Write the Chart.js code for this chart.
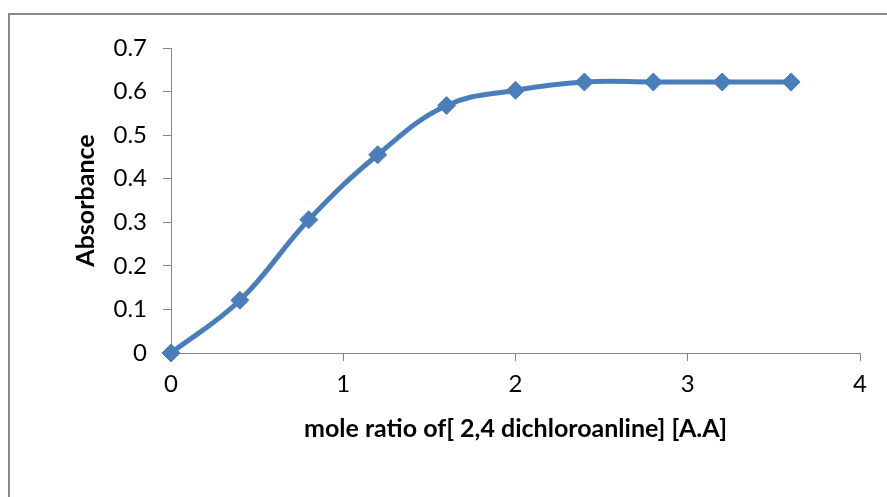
<!DOCTYPE html>
<html>
<head>
<meta charset="utf-8">
<script src="https://cdn.jsdelivr.net/npm/chart.js@4.4.1/dist/chart.umd.min.js"></script>
<style>
  html, body { margin: 0; padding: 0; background: #ffffff; }
  #wrap { width: 887px; height: 497px; }
</style>
</head>
<body>
<div id="wrap"><canvas id="absChart" width="887" height="497"></canvas></div>
<script>
  "use strict";

  // mole ratio [A.A] vs absorbance
  const moleRatio = [0, 0.4, 0.8, 1.2, 1.6, 2.0, 2.4, 2.8, 3.2, 3.6];
  const absorbance = [0, 0.121, 0.306, 0.455, 0.568, 0.603, 0.622, 0.622, 0.622, 0.622];
  const xTitle = "mole ratio of[ 2,4 dichloroanline] [A.A]";
  const yTitle = "Absorbance";

  const lineBlue = "#4A7EBB";
  const axisGray = "#868686";
  const fontFamily = "Lato, 'Open Sans', sans-serif";

  const points = moleRatio.map((x, i) => ({ x: x, y: absorbance[i] }));

  // outer frame of the chart box
  const framePlugin = {
    id: "frame",
    beforeDraw: (chart) => {
      const ctx = chart.ctx;
      ctx.save();
      ctx.fillStyle = "#ffffff";
      ctx.fillRect(0, 0, chart.width, chart.height);
      ctx.strokeStyle = "#8a8a8a";
      ctx.lineWidth = 2;
      ctx.strokeRect(9, 14, chart.width + 20, chart.height + 20);
      ctx.restore();
    },
  };

  new Chart(document.getElementById("absChart"), {
    type: "line",
    data: {
      datasets: [
        {
          data: points,
          borderColor: lineBlue,
          backgroundColor: lineBlue,
          borderWidth: 5,
          tension: 0.4,
          pointStyle: "rectRot",
          pointRadius: 9,
          pointBorderWidth: 1,
          pointBorderColor: lineBlue,
          pointBackgroundColor: lineBlue,
          clip: false,
        },
      ],
    },
    options: {
      responsive: false,
      animation: false,
      layout: {
        padding: { top: 48, right: 27, bottom: 0, left: 0 },
      },
      plugins: {
        legend: { display: false },
        tooltip: { enabled: false },
      },
      scales: {
        x: {
          type: "linear",
          min: 0,
          max: 4,
          ticks: {
            stepSize: 1,
            padding: 9,
            color: "#000000",
            font: { family: fontFamily, size: 24 },
          },
          grid: {
            drawOnChartArea: false,
            drawTicks: true,
            tickLength: 8,
            color: axisGray,
          },
          border: { color: axisGray, width: 1 },
          title: {
            display: true,
            text: xTitle,
            color: "#000000",
            font: { family: fontFamily, size: 25, weight: "bold" },
            padding: { top: 0, bottom: 53 },
          },
          afterFit: (scale) => {
            scale.height = 144;
          },
        },
        y: {
          min: 0,
          max: 0.7,
          ticks: {
            stepSize: 0.1,
            padding: 16,
            color: "#000000",
            font: { family: fontFamily, size: 24 },
            callback: (v) => +v.toFixed(1),
          },
          grid: {
            drawOnChartArea: false,
            drawTicks: true,
            tickLength: 8,
            color: axisGray,
          },
          border: { color: axisGray, width: 1 },
          title: {
            display: true,
            text: yTitle,
            color: "#000000",
            font: { family: fontFamily, size: 25, weight: "bold" },
            padding: { top: 71, bottom: 0 },
          },
          afterFit: (scale) => {
            scale.width = 171;
          },
        },
      },
    },
    plugins: [framePlugin],
  });
</script>
</body>
</html>
